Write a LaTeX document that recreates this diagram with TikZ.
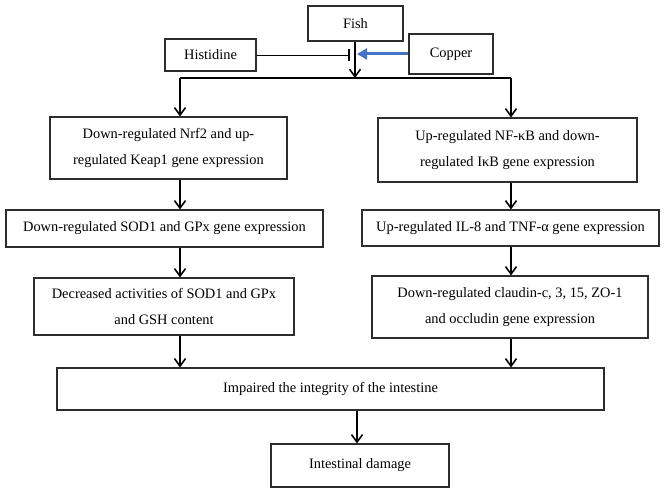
\documentclass[tikz,border=0pt]{standalone}
\usepackage{fontspec}
\setmainfont{Liberation Serif}
\usetikzlibrary{arrows.meta}
\definecolor{copperblue}{RGB}{68,114,196}
\definecolor{boxline}{RGB}{45,45,45}
\tikzset{
  box/.style={draw=boxline, line width=1.1pt, align=center, inner sep=0pt,
    font=\fontsize{14.4}{26}\selectfont},
  arr/.style={->, line width=1.6pt},
}
\begin{document}
\begin{tikzpicture}[x=1pt, y=-1pt, >={Straight Barb[length=7.5pt,width=11pt]}]
  \useasboundingbox (0,0) rectangle (666,494);

  \node[box, minimum width=95pt, minimum height=35pt] (fish) at (355.5,23.5) {Fish};
  \node[box, minimum width=91pt, minimum height=32pt] (his) at (210.5,55) {Histidine};
  \node[box, minimum width=84pt, minimum height=40pt] (cu) at (451,54) {Copper};

  \node[box, minimum width=237pt, minimum height=62pt] (nrf) at (168.5,148) {Down-regulated Nrf2 and up-\\regulated Keap1 gene expression};
  \node[box, minimum width=317pt, minimum height=37pt] (sod) at (164.5,228.5) {Down-regulated SOD1 and GPx gene expression};
  \node[box, minimum width=260pt, minimum height=57pt] (gpx) at (164,306.5) {Decreased activities of SOD1 and GPx\\and GSH content};

  \node[box, minimum width=259pt, minimum height=64pt] (nfkb) at (507.5,150) {Up-regulated NF-κB and down-\\regulated IκB gene expression};
  \node[box, minimum width=297pt, minimum height=36pt] (il) at (510.5,228) {Up-regulated IL-8 and TNF-α gene expression};
  \node[box, minimum width=276pt, minimum height=62pt] (cld) at (510,307) {Down-regulated claudin-c, 3, 15, ZO-1\\and occludin gene expression};

  \node[box, minimum width=547pt, minimum height=42pt] (imp) at (330.5,389) {Impaired the integrity of the intestine};
  \node[box, minimum width=178pt, minimum height=43pt] (dmg) at (360,465.5) {Intestinal damage};

  \coordinate (j) at (355,78);
  \coordinate (t) at (350,55);
  \coordinate (cb) at (357,54);
  \coordinate (lc) at (180,0);
  \coordinate (rc) at (511,0);
  \coordinate (mc) at (357,0);

  \draw[line width=0.9pt, -{Bar[width=12pt,line width=1.8pt]}] (his.east) -- (t);
  \draw[copperblue, line width=3pt, -{Triangle[length=10pt,width=11pt]}] (cu.west) -- (cb);
  \draw[arr] (fish.south -| j) -- (j);
  \draw[line width=1.6pt] (j -| lc) -- (j -| rc);
  \draw[arr] (j -| lc) -- (nrf.north -| lc);
  \draw[arr] (j -| rc) -- (nfkb.north -| rc);

  \draw[arr] (nrf.south -| lc) -- (sod.north -| lc);
  \draw[arr] (sod.south -| lc) -- (gpx.north -| lc);
  \draw[arr] (gpx.south -| lc) -- (imp.north -| lc);
  \draw[arr] (nfkb.south -| rc) -- (il.north -| rc);
  \draw[arr] (il.south -| rc) -- (cld.north -| rc);
  \draw[arr] (cld.south -| rc) -- (imp.north -| rc);
  \draw[arr] (imp.south -| mc) -- (dmg.north -| mc);
\end{tikzpicture}
\end{document}
